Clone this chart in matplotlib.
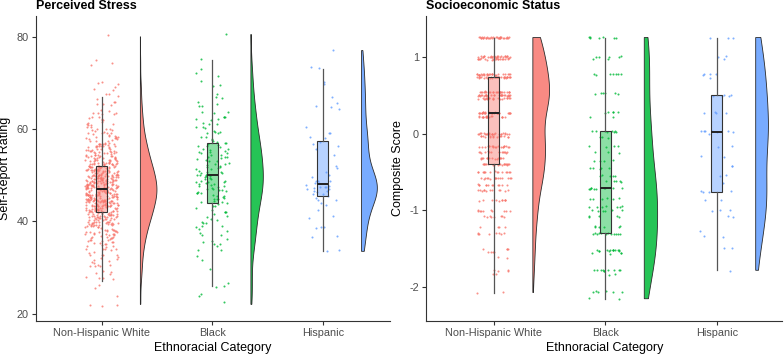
import numpy as np
import matplotlib.pyplot as plt
from matplotlib.colors import to_rgba

plt.rcParams['font.family'] = ['Liberation Sans', 'DejaVu Sans']
plt.rcParams['axes.unicode_minus'] = False

groups = ['Non-Hispanic White', 'Black', 'Hispanic']
colors = ['#F8766D', '#00BA38', '#619CFF']

# Perceived stress (value, how many points sit there)
stress_nhw_vals = [22, 24, 26, 27, 28, 29, 30, 31, 32, 33, 34, 35, 36, 37, 38, 39, 40, 41,
                   42, 43, 44, 45, 46, 47, 48, 49, 50, 51, 52, 53, 54, 55, 56, 57, 58, 59,
                   60, 61, 62, 63, 64, 65, 66, 67, 68, 69, 70, 74, 75, 80]
stress_nhw_counts = [3, 1, 2, 1, 3, 4, 4, 3, 5, 6, 6, 8, 10, 12, 13, 16, 19, 22,
                     24, 26, 29, 31, 32, 33, 32, 30, 28, 26, 24, 20, 18, 16, 14, 12, 10, 8,
                     7, 6, 5, 5, 4, 3, 3, 2, 2, 2, 3, 2, 1, 1]

stress_black_vals = [22, 24, 26, 27, 30, 32, 34, 35, 36, 37, 38, 39, 40, 41, 42, 43, 44, 45,
                     46, 47, 48, 49, 50, 51, 52, 53, 54, 55, 56, 57, 58, 59, 60, 61, 62, 63,
                     64, 65, 66, 67, 68, 69, 70, 72, 73, 75, 80.5]
stress_black_counts = [1, 2, 2, 1, 1, 2, 2, 3, 3, 2, 3, 3, 4, 3, 4, 4, 5, 6,
                       6, 7, 7, 7, 7, 7, 6, 6, 6, 6, 6, 5, 4, 4, 4, 3, 3, 3,
                       3, 2, 2, 2, 1, 1, 2, 2, 1, 1, 1]

stress_hisp_vals = [33.5, 36.5, 37, 38, 39, 41, 42, 44, 45, 46, 47, 47.5, 48, 49, 50, 51, 52,
                    54, 56, 57, 58, 59, 60, 64, 65, 66, 67, 70, 70.5, 73, 77]
stress_hisp_counts = [2, 1, 1, 1, 2, 2, 1, 2, 3, 4, 5, 3, 4, 3, 2, 1, 2,
                      1, 2, 2, 2, 2, 1, 1, 2, 1, 1, 1, 1, 2, 1]

# Socioeconomic status composite, discrete levels
ses_nhw_vals = [1.25, 1.0, 0.97, 0.77, 0.73, 0.54, 0.5, 0.46, 0.27, 0.22, 0.0, -0.04, -0.17,
                -0.24, -0.32, -0.4, -0.5, -0.58, -0.67, -0.74, -0.87, -1.0, -1.08, -1.22,
                -1.3, -1.5, -1.54, -1.61, -1.78, -1.83, -2.07]
ses_nhw_counts = [35, 28, 22, 28, 30, 25, 30, 20, 30, 20, 25, 15, 20,
                  15, 15, 20, 15, 15, 12, 12, 10, 10, 8, 4,
                  8, 4, 4, 2, 4, 2, 2]

ses_black_vals = [1.25, 1.0, 0.97, 0.77, 0.52, 0.27, 0.22, 0.03, -0.05, -0.17, -0.25, -0.35,
                  -0.45, -0.55, -0.62, -0.71, -0.85, -0.95, -1.0, -1.08, -1.21, -1.3, -1.52,
                  -1.56, -1.78, -1.83, -2.06, -2.15]
ses_black_counts = [7, 5, 2, 7, 6, 5, 2, 8, 3, 4, 3, 4,
                    5, 5, 5, 10, 6, 7, 6, 5, 6, 12, 13,
                    4, 10, 2, 6, 2]

ses_hisp_vals = [1.25, 1.0, 0.97, 0.77, 0.73, 0.5, 0.27, 0.03, 0.0, -0.17, -0.3, -0.42,
                 -0.55, -0.65, -0.76, -0.87, -1.0, -1.08, -1.26, -1.34, -1.49, -1.78]
ses_hisp_counts = [3, 2, 1, 4, 1, 5, 4, 7, 1, 2, 2, 2,
                   2, 1, 4, 2, 3, 2, 1, 2, 2, 1]

stress = [np.repeat(stress_nhw_vals, stress_nhw_counts).astype(float),
          np.repeat(stress_black_vals, stress_black_counts).astype(float),
          np.repeat(stress_hisp_vals, stress_hisp_counts).astype(float)]
ses = [np.repeat(ses_nhw_vals, ses_nhw_counts).astype(float),
       np.repeat(ses_black_vals, ses_black_counts).astype(float),
       np.repeat(ses_hisp_vals, ses_hisp_counts).astype(float)]


def kde(vals, n=512):
    # gaussian density like R's density() with bw.nrd0, trimmed to the data range
    q1, q3 = np.percentile(vals, [25, 75])
    bw = 0.9 * min(vals.std(ddof=1), (q3 - q1) / 1.34) * len(vals) ** -0.2
    grid = np.linspace(vals.min(), vals.max(), n)
    z = (grid[:, None] - vals[None, :]) / bw
    dens = np.exp(-0.5 * z ** 2).sum(axis=1) / (len(vals) * bw * np.sqrt(2 * np.pi))
    return grid, dens


def raincloud(ax, data, yjit, seed):
    rng = np.random.default_rng(seed)
    dens_all = [kde(d) for d in data]
    peak = max(dn.max() for g, dn in dens_all)
    for i, d in enumerate(data):
        x = i + 1
        col = colors[i]
        g, dn = dens_all[i]
        x0 = x + 0.35
        w = dn / peak * 0.15
        xs = np.concatenate([[x0], x0 + w, [x0]])
        ys = np.concatenate([[g[0]], g, [g[-1]]])
        ax.fill(xs, ys, facecolor=to_rgba(col, 0.85), edgecolor='#2b2b2b', lw=0.6, zorder=2)

        jx = x + rng.uniform(-0.15, 0.15, len(d))
        jy = d + rng.uniform(-yjit, yjit, len(d))
        ax.scatter(jx, jy, s=2.2, color=col, alpha=0.8, linewidths=0, zorder=3)

        ax.boxplot(d, positions=[x], widths=0.1, patch_artist=True, showfliers=False,
                   showcaps=False, whis=1.5, zorder=4,
                   boxprops=dict(facecolor=to_rgba(col, 0.45), edgecolor='#333333', lw=0.8),
                   medianprops=dict(color='#222222', lw=1.4),
                   whiskerprops=dict(color='#555555', lw=0.9))


def style(ax, title, ylabel):
    for s in ['top', 'right']:
        ax.spines[s].set_visible(False)
    for s in ['left', 'bottom']:
        ax.spines[s].set_color('#333333')
        ax.spines[s].set_linewidth(0.8)
    ax.tick_params(direction='out', length=3, width=0.8, color='#333333',
                   labelcolor='#4D4D4D', labelsize=7.8, pad=2.2)
    ax.set_xticks([1, 2, 3])
    ax.set_xticklabels(groups)
    ax.set_title(title, loc='left', fontweight='bold', fontsize=9, pad=5)
    ax.set_xlabel('Ethnoracial Category', fontsize=9, labelpad=3)
    ax.set_ylabel(ylabel, fontsize=9, labelpad=4)


fig = plt.figure(figsize=(7.84, 3.54), dpi=100)
ax1 = fig.add_axes([0.0455, 0.0932, 0.4515, 0.8616])
ax2 = fig.add_axes([0.5438, 0.0932, 0.4542, 0.8616])

raincloud(ax1, stress, 0.5, 1)
ax1.set_xlim(0.403, 3.605)
ax1.set_ylim(18.4, 84.5)
ax1.set_yticks([20, 40, 60, 80])
style(ax1, 'Perceived Stress', 'Self-Report Rating')

raincloud(ax2, ses, 0.008, 2)
ax2.set_xlim(0.394, 3.59)
ax2.set_ylim(-2.44, 1.53)
ax2.set_yticks([-2, -1, 0, 1])
style(ax2, 'Socioeconomic Status', 'Composite Score')

fig.savefig('out.png', dpi=100)
